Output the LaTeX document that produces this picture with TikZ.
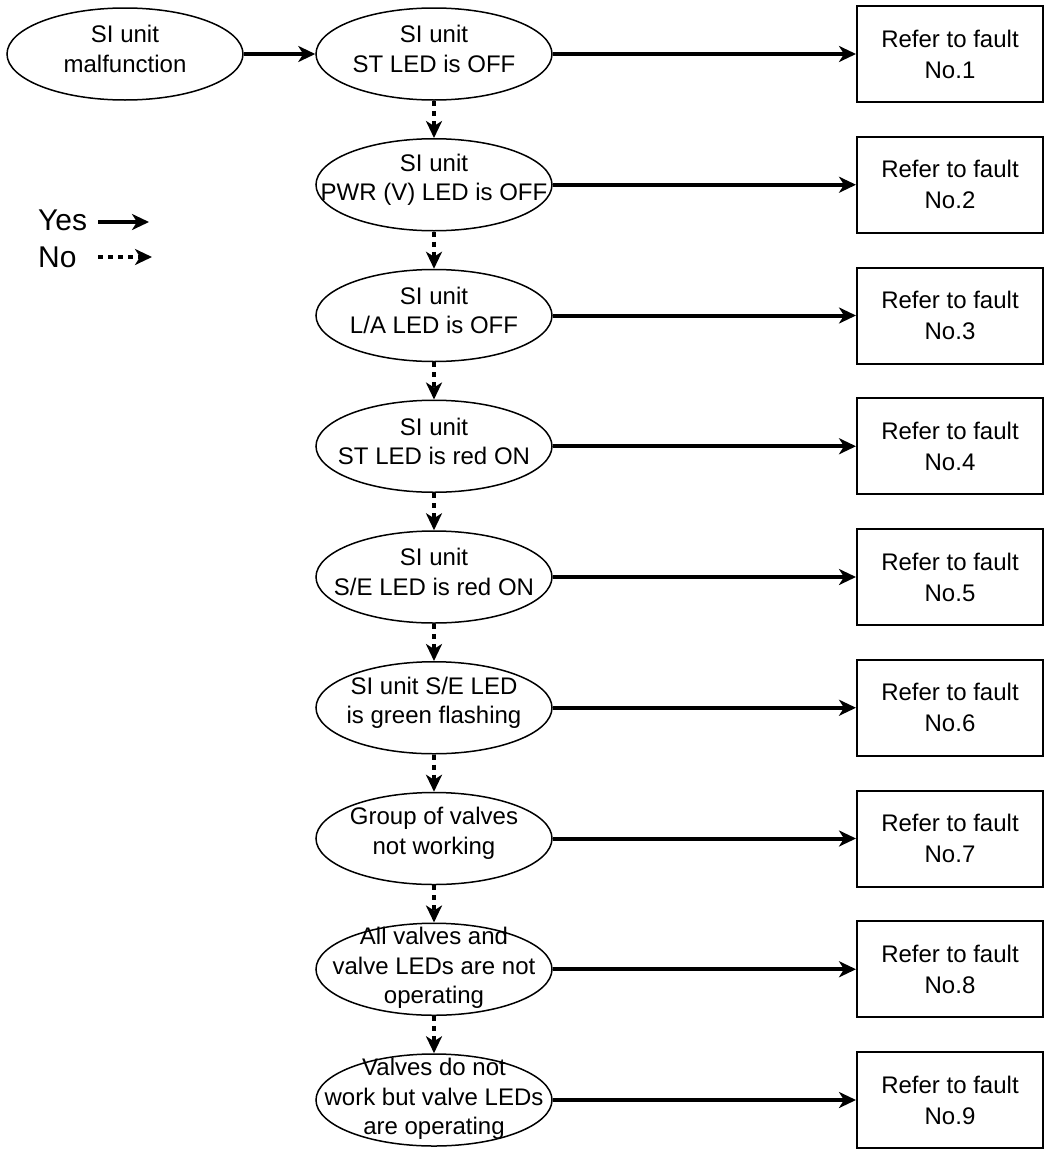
\documentclass[tikz,border=0pt]{standalone}
\usepackage{fontspec}
\setmainfont{Liberation Sans}
\usetikzlibrary{arrows.meta, shapes.geometric, positioning}

\tikzset{
  check/.style={ellipse, draw, line width=1.5pt, minimum width=236pt, minimum height=92pt, inner sep=0pt},
  checktext/.style={label={[align=center, yshift=5pt, font=\fontsize{24}{29.5}\selectfont]center:#1}},
  checklong/.style={label={[align=center, yshift=1pt, font=\fontsize{24}{29.5}\selectfont]center:#1}},
  faultbox/.style={rectangle, draw, line width=2pt, minimum width=186pt, minimum height=96pt, align=center, font=\fontsize{24}{31}\selectfont},
  yesarrow/.style={line width=4pt, -{Stealth[length=17pt, width=16pt, inset=5pt]}},
  noarrow/.style={yesarrow, dash pattern=on 5pt off 5pt},
  legendtext/.style={anchor=base west, inner sep=0pt, font=\fontsize{30}{36}\selectfont}
}

\begin{document}
\begin{tikzpicture}[x=1pt,y=-1pt]
\def\startx{125}
\def\checkx{434}
\def\faultx{950}
\def\topy{54}
\def\rowgap{130.75}
\useasboundingbox (0,0) rectangle (1044,1151);

% checks down the middle
\node[check, checktext={SI unit\\malfunction}] (start) at (\startx,\topy) {};
\node[check, checktext={SI unit\\ST LED is OFF}] (q1) at (\checkx,\topy) {};
\node[check, checktext={SI unit\\PWR (V) LED is OFF}] (q2) at (\checkx,{\topy+1*\rowgap}) {};
\node[check, checktext={SI unit\\L/A LED is OFF}] (q3) at (\checkx,{\topy+2*\rowgap}) {};
\node[check, checktext={SI unit\\ST LED is red ON}] (q4) at (\checkx,{\topy+3*\rowgap}) {};
\node[check, checktext={SI unit\\S/E LED is red ON}] (q5) at (\checkx,{\topy+4*\rowgap}) {};
\node[check, checktext={SI unit S/E LED\\is green flashing}] (q6) at (\checkx,{\topy+5*\rowgap}) {};
\node[check, checktext={Group of valves\\not working}] (q7) at (\checkx,{\topy+6*\rowgap}) {};
\node[check, checklong={All valves and\\valve LEDs are not\\operating}] (q8) at (\checkx,{\topy+7*\rowgap}) {};
\node[check, checklong={Valves do not\\work but valve LEDs\\are operating}] (q9) at (\checkx,{\topy+8*\rowgap}) {};

% fault references on the right
\node[faultbox] (f1) at (\faultx,\topy) {Refer to fault\\No.1};
\node[faultbox] (f2) at (\faultx,{\topy+1*\rowgap}) {Refer to fault\\No.2};
\node[faultbox] (f3) at (\faultx,{\topy+2*\rowgap}) {Refer to fault\\No.3};
\node[faultbox] (f4) at (\faultx,{\topy+3*\rowgap}) {Refer to fault\\No.4};
\node[faultbox] (f5) at (\faultx,{\topy+4*\rowgap}) {Refer to fault\\No.5};
\node[faultbox] (f6) at (\faultx,{\topy+5*\rowgap}) {Refer to fault\\No.6};
\node[faultbox] (f7) at (\faultx,{\topy+6*\rowgap}) {Refer to fault\\No.7};
\node[faultbox] (f8) at (\faultx,{\topy+7*\rowgap}) {Refer to fault\\No.8};
\node[faultbox] (f9) at (\faultx,{\topy+8*\rowgap}) {Refer to fault\\No.9};

% yes
\draw[yesarrow] (start) -- (q1);
\draw[yesarrow] (q1) -- (f1);
\draw[yesarrow] (q2) -- (f2);
\draw[yesarrow] (q3) -- (f3);
\draw[yesarrow] (q4) -- (f4);
\draw[yesarrow] (q5) -- (f5);
\draw[yesarrow] (q6) -- (f6);
\draw[yesarrow] (q7) -- (f7);
\draw[yesarrow] (q8) -- (f8);
\draw[yesarrow] (q9) -- (f9);

% no
\draw[noarrow] (q1) -- (q2);
\draw[noarrow] (q2) -- (q3);
\draw[noarrow] (q3) -- (q4);
\draw[noarrow] (q4) -- (q5);
\draw[noarrow] (q5) -- (q6);
\draw[noarrow] (q6) -- (q7);
\draw[noarrow] (q7) -- (q8);
\draw[noarrow] (q8) -- (q9);

% legend
\node[legendtext] (yeslabel) at (38,230) {Yes};
\node[legendtext] (nolabel) at (38,267) {No};
\coordinate (yesfrom) at (98,222);
\coordinate (yesto) at (149,222);
\coordinate (nofrom) at (98,257);
\coordinate (noto) at (152,257);
\draw[yesarrow] (yesfrom) -- (yesto);
\draw[noarrow] (nofrom) -- (noto);
\end{tikzpicture}
\end{document}
